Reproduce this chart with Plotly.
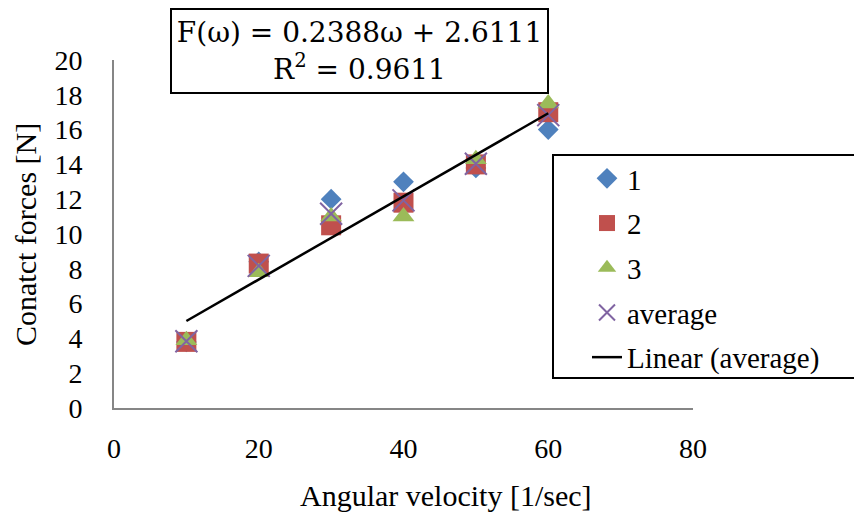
import plotly.graph_objects as go

# Angular velocity [1/sec] and measured contact forces [N] for three runs
omega = [10, 20, 30, 40, 50, 60]
run1 = [3.8, 8.4, 12.0, 13.0, 13.8, 16.0]
run2 = [3.8, 8.3, 10.5, 11.8, 14.0, 17.0]
run3 = [3.9, 7.8, 11.0, 11.0, 14.3, 17.5]
average = [round((a + b + c) / 3, 3) for a, b, c in zip(run1, run2, run3)]

# Linear trend of the average series
slope = 0.2388
intercept = 2.6111
r_squared = 0.9611
trend_x = [omega[0], omega[-1]]
trend_y = [slope * x + intercept for x in trend_x]

x_ticks = [0, 20, 40, 60, 80]
y_ticks = list(range(0, 21, 2))

FONT = "Liberation Serif"
MATH_FONT = "DejaVu Serif"
W, H = 854, 512
L, R, T, B = 114, 161, 60, 104
pw, ph = W - L - R, H - T - B


def px_x(p):
    return (p - L) / pw


def px_y(p):
    return (H - B - p) / ph


fig = go.Figure()
fig.add_trace(go.Scatter(
    x=omega, y=run1, mode="markers", name="1", legendgroup="g1",
    marker=dict(symbol="diamond", size=16, color="#4F81BD")))
fig.add_trace(go.Scatter(
    x=omega, y=run2, mode="markers", name="2", legendgroup="g2",
    marker=dict(symbol="square", size=20, color="#C0504D")))
fig.add_trace(go.Scatter(
    x=omega, y=run3, mode="markers", name="3", legendgroup="g3",
    marker=dict(symbol="triangle-up", size=19, color="#9BBB59")))
fig.add_trace(go.Scatter(
    x=omega, y=average, mode="markers", name="average", legendgroup="g4",
    marker=dict(symbol="x-thin-open", size=22, color="#8064A2",
                line=dict(color="#8064A2", width=2))))
fig.add_trace(go.Scatter(
    x=trend_x, y=trend_y, mode="lines", name="Linear (average)", legendgroup="g5",
    line=dict(color="black", width=2.5)))

axis_common = dict(
    showgrid=False, zeroline=False, showline=True, linecolor="#868686",
    linewidth=2, ticks="", tickfont=dict(family=FONT, size=28, color="black"),
)

fig.update_layout(
    width=W, height=H,
    margin=dict(l=L, r=R, t=T, b=B, autoexpand=False),
    paper_bgcolor="white", plot_bgcolor="white",
    xaxis=dict(range=[0, 80], tickvals=x_ticks, ticklabelstandoff=14, **axis_common),
    yaxis=dict(range=[0, 20], tickvals=y_ticks, ticklabelstandoff=24, **axis_common),
    showlegend=True,
    legend=dict(
        x=px_x(587), y=px_y(153), xanchor="left", yanchor="top",
        bgcolor="rgba(0,0,0,0)", borderwidth=0,
        font=dict(family=FONT, size=29, color="black"),
        traceorder="grouped", tracegroupgap=4, itemwidth=30,
    ),
    shapes=[dict(
        type="rect", xref="paper", yref="paper",
        x0=px_x(553), x1=px_x(870), y0=px_y(378), y1=px_y(155),
        line=dict(color="black", width=2), fillcolor="white", layer="above",
    )],
    annotations=[
        dict(
            text=f"F(ω) = {slope}ω + {intercept}<br>R<sup>2</sup> = {r_squared}",
            xref="paper", yref="paper", x=px_x(359.5), y=px_y(51),
            xanchor="center", yanchor="middle", showarrow=False,
            font=dict(family=MATH_FONT, size=28, color="black"),
            bordercolor="black", borderwidth=2, borderpad=0, bgcolor="white",
            width=375, height=82,
        ),
        dict(
            text="Angular velocity [1/sec]", xref="paper", yref="paper",
            x=px_x(446), y=px_y(495), xanchor="center", yanchor="middle",
            showarrow=False, font=dict(family=FONT, size=30, color="black"),
        ),
        dict(
            text="Conatct forces [N]", xref="paper", yref="paper",
            x=px_x(25), y=px_y(235), xanchor="center", yanchor="middle",
            textangle=-90, showarrow=False,
            font=dict(family=FONT, size=30, color="black"),
        ),
    ],
)

fig.write_html("out.html")
